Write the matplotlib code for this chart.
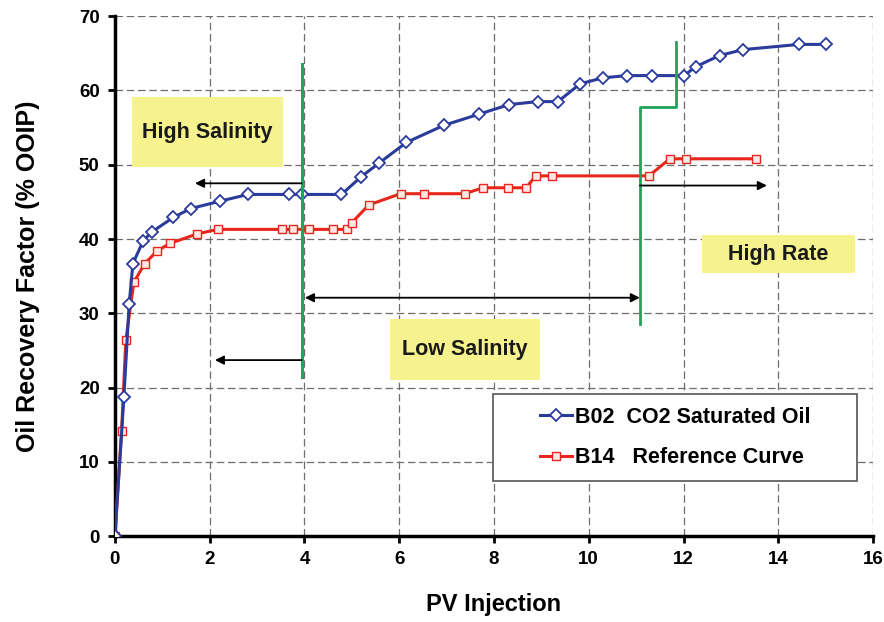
import matplotlib
matplotlib.use('Agg')
import matplotlib.pyplot as plt
from matplotlib.patches import Rectangle

plt.rcParams['font.family'] = ['Liberation Sans', 'DejaVu Sans']
plt.rcParams['font.weight'] = 'bold'

# B02 CO2 saturated oil
b02_pv = [0, 0.19, 0.30, 0.38, 0.6, 0.79, 1.23, 1.6, 2.22, 2.81, 3.68, 3.94, 4.78,
          5.2, 5.57, 6.15, 6.94, 7.68, 8.32, 8.92, 9.35, 9.82, 10.3, 10.8, 11.34,
          12.01, 12.26, 12.76, 13.26, 14.44, 15.0]
b02_rf = [0, 18.75, 31.2, 36.7, 39.8, 41.0, 42.9, 44.1, 45.1, 46.0, 46.0, 46.0, 46.0,
          48.4, 50.2, 53.0, 55.3, 56.8, 58.1, 58.5, 58.5, 60.9, 61.7, 62.0, 62.0,
          62.0, 63.2, 64.7, 65.5, 66.2, 66.2]

# B14 reference curve
b14_pv = [0, 0.14, 0.23, 0.4, 0.63, 0.89, 1.16, 1.74, 2.18, 3.52, 3.75, 4.1, 4.6, 4.89,
          5.0, 5.36, 6.03, 6.53, 7.38, 7.77, 8.3, 8.68, 8.88, 9.23, 11.27, 11.71,
          12.06, 13.52]
b14_rf = [0, 14.1, 26.4, 34.2, 36.7, 38.4, 39.4, 40.7, 41.3, 41.3, 41.3, 41.3, 41.3, 41.3,
          42.2, 44.6, 46.1, 46.1, 46.1, 46.9, 46.9, 46.9, 48.5, 48.5, 48.5, 50.8,
          50.8, 50.8]

# green switch lines
switch1_x = [3.94, 3.94]
switch1_y = [21.4, 63.6]
switch2_x = [11.08, 11.08, 11.84, 11.84]
switch2_y = [28.6, 57.8, 57.8, 66.5]

# label boxes: text, x0, y0, x1, y1
boxes = [
    ("High Salinity", 0.35, 49.7, 3.55, 59.1),
    ("Low Salinity", 5.8, 21.0, 8.97, 29.3),
    ("High Rate", 12.38, 35.4, 15.61, 40.5),
]

blue = '#2b3b9c'
red = '#e8261c'
green = '#1fa45a'

fig = plt.figure(figsize=(8.84, 6.22), dpi=100)
ax = fig.add_axes([0.130, 0.138, 0.8576, 0.836])

ax.plot(b02_pv, b02_rf, color=blue, lw=2.2, marker='D', ms=6.5, mfc='white',
        mec=blue, mew=1.3, label='B02  CO2 Saturated Oil', zorder=4)
ax.plot(b14_pv, b14_rf, color=red, lw=2.2, marker='s', ms=5.5, mfc='#fde8e6',
        mec=red, mew=1.0, label='B14   Reference Curve', zorder=3)

ax.plot(switch1_x, switch1_y, color=green, lw=2.2, zorder=5)
ax.plot(switch2_x, switch2_y, color=green, lw=2.0, zorder=5)

for txt, x0, y0, x1, y1 in boxes:
    ax.add_patch(Rectangle((x0, y0), x1 - x0, y1 - y0, facecolor='#f6f28e',
                           edgecolor='none', zorder=2))
    ax.text((x0 + x1) / 2, (y0 + y1) / 2, txt, ha='center', va='center',
            fontsize=15.5, fontweight='bold', color='#1a1a1a', zorder=3)

arrow = dict(arrowstyle='-|>', color='black', lw=1.3, mutation_scale=13,
             shrinkA=0, shrinkB=0)
ax.annotate('', xy=(1.69, 47.5), xytext=(3.94, 47.5), arrowprops=arrow, zorder=6)
ax.annotate('', xy=(2.11, 23.7), xytext=(3.94, 23.7), arrowprops=arrow, zorder=6)
ax.annotate('', xy=(13.76, 47.2), xytext=(11.08, 47.2), arrowprops=arrow, zorder=6)
ax.annotate('', xy=(11.08, 32.1), xytext=(4.01, 32.1),
            arrowprops=dict(arrowstyle='<|-|>', color='black', lw=1.3,
                            mutation_scale=13, shrinkA=0, shrinkB=0), zorder=6)

ax.set_xlim(0, 16)
ax.set_ylim(0, 70)
ax.set_xticks(range(0, 17, 2))
ax.set_yticks(range(0, 71, 10))
ax.grid(True, color='#6e6e6e', lw=0.9, ls=(0, (6, 3)))
ax.set_axisbelow(True)

for s in ['top', 'right']:
    ax.spines[s].set_visible(False)
for s in ['left', 'bottom']:
    ax.spines[s].set_linewidth(2.5)
ax.tick_params(direction='out', length=5, width=2, labelsize=13.5, pad=6)
for lab in ax.get_xticklabels() + ax.get_yticklabels():
    lab.set_fontweight('bold')

ax.set_xlabel('PV Injection', fontsize=17, fontweight='bold', labelpad=18)
ax.set_ylabel('Oil Recovery Factor (% OOIP)', fontsize=18, fontweight='bold', labelpad=28)

# legend frame drawn separately so the entries sit centred in it
ax.add_patch(Rectangle((0.499, 0.106), 0.480, 0.167, transform=ax.transAxes,
                       facecolor='white', edgecolor='#555555', lw=1.2, zorder=7))
leg = ax.legend(loc='center', bbox_to_anchor=(0.7388, 0.1894), fontsize=15.5,
                handlelength=1.5, handletextpad=0.15, labelspacing=0.9,
                frameon=False)
leg.set_zorder(8)
for t in leg.get_texts():
    t.set_fontweight('bold')

fig.savefig('out.png', dpi=100)
